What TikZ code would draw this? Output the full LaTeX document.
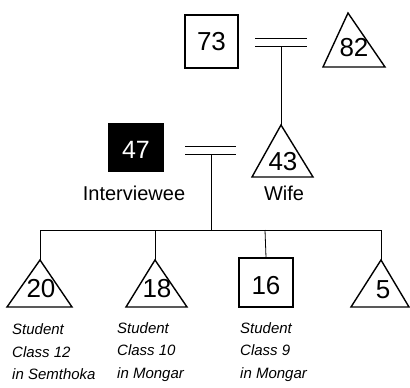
\documentclass[tikz,border=0pt]{standalone}
\usepackage{fontspec}
\setmainfont{Liberation Sans}
\begin{document}
\begin{tikzpicture}[x=1pt,y=-1pt,
  box/.style={draw,line width=1.4pt},
  tri/.style={draw,line width=1.4pt,line join=miter},
  ln/.style={line width=0.8pt},
  num/.style={inner sep=0pt,font=\fontsize{26}{26}\selectfont},
  lab/.style={inner sep=0pt,font=\fontsize{20}{20}\selectfont},
  note/.style={inner sep=0pt,anchor=west,align=left,font=\fontsize{15}{22.5}\selectfont\itshape}]
\useasboundingbox (0,0) rectangle (410,388);
% generation 1
\node[box,minimum width=53pt,minimum height=53pt,inner sep=0pt] (n73) at (211.5,41.5) {};
\node[num] (t73) at (211.5,42) {73};
\coordinate (a82) at (348,13);
\draw[tri] (a82) -- (323,67) -- (385,67) -- cycle;
\node[num] (t82) at (354,48) {82};
\coordinate (m1a) at (255,38); \coordinate (m1b) at (307,38);
\coordinate (m2a) at (255,46); \coordinate (m2b) at (307,46);
\draw[ln] (m1a) -- (m1b);
\draw[ln] (m2a) -- (m2b);
\coordinate (d1) at (281,46);
% generation 2
\coordinate (a43) at (281,125);
\draw[tri] (a43) -- (252,177) -- (313,177) -- cycle;
\node[num] (t43) at (283,162) {43};
\node[lab] (wife) at (284,193) {Wife};
\draw[ln] (d1) -- (a43);
\node[fill=black,minimum width=56pt,minimum height=49pt,inner sep=0pt] (n47) at (136,147.5) {};
\node[num,text=white,font=\fontsize{25}{25}\selectfont] (t47) at (136,150) {47};
\node[lab] (intv) at (134,193) {Interviewee};
\coordinate (m3a) at (185,146); \coordinate (m3b) at (236,146);
\coordinate (m4a) at (185,154); \coordinate (m4b) at (236,154);
\draw[ln] (m3a) -- (m3b);
\draw[ln] (m4a) -- (m4b);
\coordinate (d2) at (211,154);
\coordinate (s0) at (211,230);
\draw[ln] (d2) -- (s0);
% sibling line
\coordinate (sL) at (40,230); \coordinate (sR) at (381,230);
\coordinate (s1) at (40,230); \coordinate (s2) at (155,230);
\coordinate (s3) at (265,230); \coordinate (s4) at (381,230);
\draw[ln] (sL) -- (sR);
% children
\coordinate (a20) at (40,260);
\draw[tri] (a20) -- (7,307) -- (72,307) -- cycle;
\node[num] (t20) at (41,289) {20};
\coordinate (a18) at (155,260);
\draw[tri] (a18) -- (126,307) -- (187,307) -- cycle;
\node[num] (t18) at (157,289) {18};
\node[box,minimum width=54pt,minimum height=49pt,inner sep=0pt] (n16) at (266,282.5) {};
\node[num] (t16) at (266,286) {16};
\coordinate (a5) at (381,260);
\draw[tri] (a5) -- (351,307) -- (409,307) -- cycle;
\node[num] (t5) at (383,290) {5};
\draw[ln] (s1) -- (a20);
\draw[ln] (s2) -- (a18);
\draw[ln] (s3) -- (n16.north);
\draw[ln] (s4) -- (a5);
% notes
\node[note] (c1) at (12,352) {Student\\Class 12\\in Semthoka};
\node[note] (c2) at (117,352) {Student\\Class 10\\in Mongar};
\node[note] (c3) at (240,352) {Student\\Class 9\\in Mongar};
\end{tikzpicture}
\end{document}
